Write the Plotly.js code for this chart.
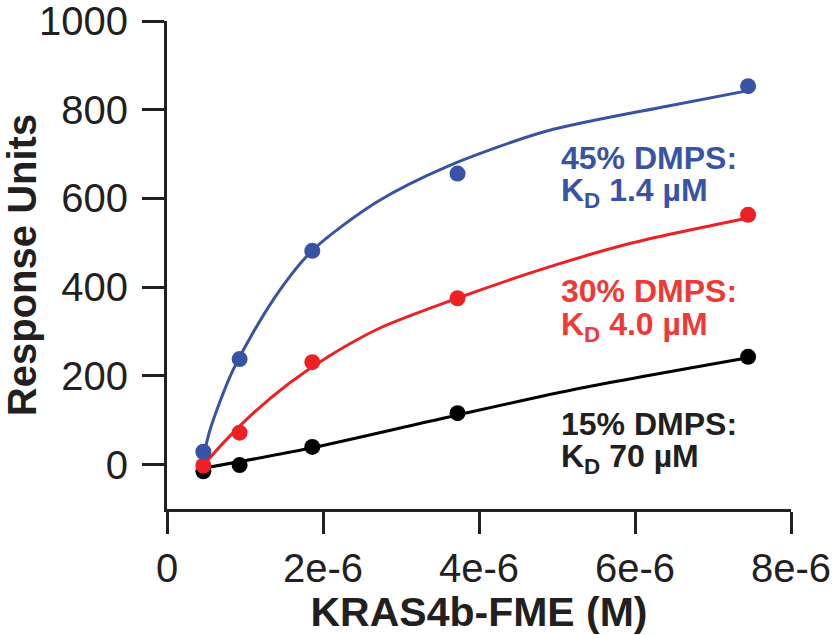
<!DOCTYPE html>
<html>
<head>
<meta charset="utf-8">
<script src="https://cdn.plot.ly/plotly-3.0.1.min.js"></script>
<style>html,body{margin:0;padding:0;background:#fff;}#chart{width:833px;height:635px;}</style>
</head>
<body>
<div id="chart"></div>
<script>
// Concentrations (M)
const conc = [0.466e-6, 0.931e-6, 1.8625e-6, 3.725e-6, 7.45e-6];
// Measured responses (RU)
const ru45 = [29, 238, 482, 656, 853];
const ru30 = [-2, 72, 231, 375, 563];
const ru15 = [-15, -1, 40, 116, 243];

// Fitted curves
const fit45x = [0.466e-6, 0.551e-6, 0.846e-6, 1.359e-6, 1.859e-6, 2.69e-6, 3.59e-6, 4.87e-6, 6.41e-6, 7.45e-6];
const fit45y = [15, 78, 213, 371, 482, 592, 672, 752, 808, 843];
const fit30x = [0.466e-6, 0.77e-6, 1.10e-6, 1.58e-6, 2.09e-6, 2.73e-6, 3.72e-6, 4.87e-6, 5.97e-6, 7.45e-6];
const fit30y = [-1, 58, 115, 185, 246, 308, 375, 444, 500, 556];
const fit15x = [0.466e-6, 1.8625e-6, 3.725e-6, 5.295e-6, 7.45e-6];
const fit15y = [-8, 38, 112, 172, 241];

// Axis ticks
const xTickVals = [0, 2e-6, 4e-6, 6e-6, 8e-6];
const xTickText = ['0', '2e-6', '4e-6', '6e-6', '8e-6'];
const yTickVals = [0, 200, 400, 600, 800, 1000];
const yTickText = ['0', '200', '400', '600', '800', '1000'];

// Labels
const labelLines = [
  {text: '45% DMPS:', color: '#3953a4', y: 0.719},
  {text: 'K<sub>D</sub> 1.4 µM', color: '#3953a4', y: 0.648},
  {text: '30% DMPS:', color: '#ee3a36', y: 0.446},
  {text: 'K<sub>D</sub> 4.0 µM', color: '#ee3a36', y: 0.375},
  {text: '15% DMPS:', color: '#231f20', y: 0.175},
  {text: 'K<sub>D</sub> 70 µM', color: '#231f20', y: 0.104}
];

const BLUE = '#3953a4', RED = '#ed2024', BLACK = '#000000';
const FONT = 'Liberation Sans, Arial, Helvetica, sans-serif';

function lineTrace(x, y, c) {
  return {x: x, y: y, type: 'scatter', mode: 'lines', line: {color: c, width: 3, shape: 'spline', smoothing: 0.8}, hoverinfo: 'skip', showlegend: false};
}
function markTrace(x, y, c) {
  return {x: x, y: y, type: 'scatter', mode: 'markers', marker: {color: c, size: 16}, showlegend: false};
}

const data = [
  lineTrace(fit15x, fit15y, BLACK), markTrace(conc, ru15, BLACK),
  lineTrace(fit30x, fit30y, RED), markTrace(conc, ru30, RED),
  lineTrace(fit45x, fit45y, BLUE), markTrace(conc, ru45, BLUE)
];

const axisCommon = {
  showgrid: false, zeroline: false, showline: true, linecolor: '#231f20', linewidth: 3,
  ticks: 'outside', ticklen: 22, tickwidth: 3, tickcolor: '#231f20',
  tickfont: {family: FONT, size: 40, color: '#231f20'}, tickmode: 'array',
  ticklabeloverflow: 'allow'
};

const layout = {
  width: 833, height: 635,
  margin: {l: 167, r: 42, t: 21, b: 126, pad: 0},
  paper_bgcolor: '#fff', plot_bgcolor: '#fff',
  font: {family: FONT},
  showlegend: false,
  xaxis: Object.assign({}, axisCommon, {
    range: [0, 8e-6], tickvals: xTickVals, ticktext: xTickText,
    title: {text: 'KRAS4b-FME (M)', font: {family: FONT, size: 41, color: '#231f20', weight: 'bold'}, standoff: 4}
  }),
  yaxis: Object.assign({}, axisCommon, {
    range: [-100, 1000], tickvals: yTickVals, ticktext: yTickText,
    ticklabelstandoff: 6,
    title: {text: 'Response Units', font: {family: FONT, size: 40, color: '#231f20', weight: 'bold'}, standoff: 6}
  }),
  annotations: labelLines.map(l => ({
    xref: 'paper', yref: 'paper', x: 0.628, y: l.y, xanchor: 'left', yanchor: 'middle',
    text: l.text, showarrow: false,
    font: {family: FONT, size: 32, color: l.color, weight: 'bold'}
  }))
};

Plotly.newPlot('chart', data, layout, {displayModeBar: false, staticPlot: true});
</script>
</body>
</html>
